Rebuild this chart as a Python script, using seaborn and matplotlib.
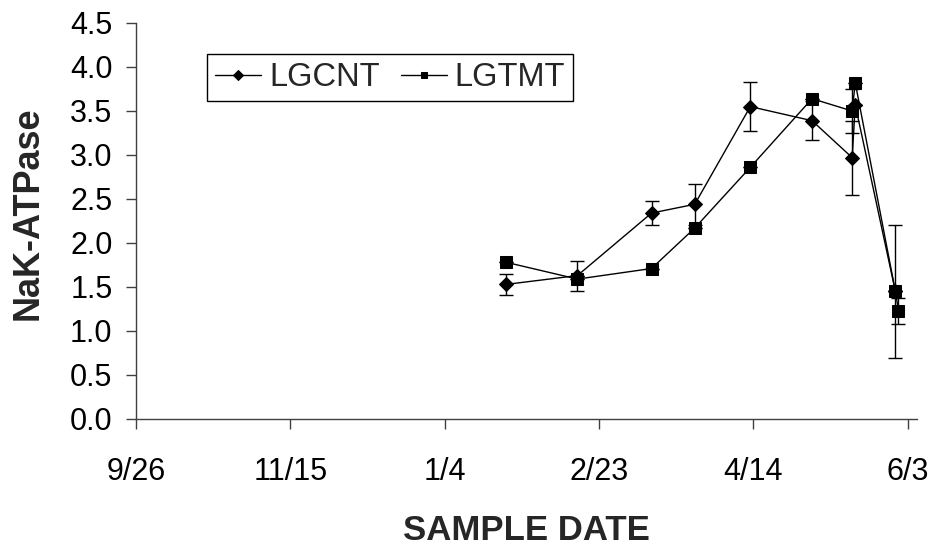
import matplotlib
matplotlib.use("Agg")
import matplotlib.pyplot as plt
import matplotlib.dates as mdates
from matplotlib.ticker import FuncFormatter, MultipleLocator
import pandas as pd
import seaborn as sns

# Sampling dates and NaK-ATPase activity for each group
cnt_dates = ["2001-01-24", "2001-02-16", "2001-03-12", "2001-03-26", "2001-04-13",
             "2001-05-03", "2001-05-16", "2001-05-17", "2001-05-30"]
cnt_values = [1.53, 1.63, 2.34, 2.44, 3.55, 3.39, 2.97, 3.57, 1.45]
cnt_err = [0.12, 0.17, 0.14, 0.23, 0.28, 0.22, 0.42, 0.0, 0.76]

tmt_dates = ["2001-01-24", "2001-02-16", "2001-03-12", "2001-03-26", "2001-04-13",
             "2001-05-03", "2001-05-16", "2001-05-17", "2001-05-30", "2001-05-31"]
tmt_values = [1.78, 1.59, 1.71, 2.17, 2.86, 3.64, 3.50, 3.82, 1.45, 1.23]
tmt_err = [0.0, 0.0, 0.0, 0.0, 0.0, 0.0, 0.25, 0.0, 0.0, 0.15]

axis_start = pd.Timestamp("2000-09-26")
axis_end = pd.Timestamp("2001-06-06")
tick_step_days = 50
y_ticks_step = 0.5

sns.set_theme(style="white")
plt.rcParams["font.family"] = ["Liberation Sans", "DejaVu Sans"]

fig = plt.figure(figsize=(9.38, 5.48), dpi=100)
ax = fig.add_axes([136 / 938, 1 - 419 / 548, 781 / 938, (419 - 23) / 548])

cnt = pd.DataFrame({"date": pd.to_datetime(cnt_dates), "value": cnt_values, "err": cnt_err})
tmt = pd.DataFrame({"date": pd.to_datetime(tmt_dates), "value": tmt_values, "err": tmt_err})

# error bars underneath the markers
for df in (cnt, tmt):
    ax.errorbar(df["date"], df["value"], yerr=df["err"], fmt="none", ecolor="black",
                elinewidth=1.0, capsize=5, capthick=1.0, zorder=1)

sns.lineplot(data=cnt, x="date", y="value", ax=ax, color="black", linewidth=1.0,
             marker="D", markersize=7, markeredgecolor="black", markerfacecolor="black",
             label="LGCNT", estimator=None, sort=False, zorder=2)
sns.lineplot(data=tmt, x="date", y="value", ax=ax, color="black", linewidth=1.0,
             marker="s", markersize=9, markeredgecolor="black", markerfacecolor="black",
             label="LGTMT", estimator=None, sort=False, zorder=3)

ax.set_xlim(axis_start, axis_end)
ticks = pd.date_range(axis_start, periods=6, freq=f"{tick_step_days}D")
ax.set_xticks(ticks)
ax.xaxis.set_major_formatter(FuncFormatter(
    lambda v, pos: f"{mdates.num2date(v).month}/{mdates.num2date(v).day}"))

ax.set_ylim(0, 4.5)
ax.yaxis.set_major_locator(MultipleLocator(y_ticks_step))
ax.yaxis.set_major_formatter(FuncFormatter(lambda v, pos: f"{v:.1f}"))

axis_color = "#404040"
for side in ("top", "right"):
    ax.spines[side].set_visible(False)
for side in ("left", "bottom"):
    ax.spines[side].set_color(axis_color)
    ax.spines[side].set_linewidth(1.0)
ax.tick_params(axis="both", direction="out", length=7, width=1.0, color=axis_color,
               labelsize=22, labelcolor="black", bottom=True, left=True)
ax.tick_params(axis="x", pad=20)
ax.tick_params(axis="y", pad=10)

ax.set_xlabel("SAMPLE DATE", fontsize=25, fontweight="bold", labelpad=20)
ax.set_ylabel("NaK-ATPase", fontsize=26, fontweight="bold")
ax.yaxis.set_label_coords(-0.116, 0.52)
ax.grid(False)

leg = ax.legend(loc="upper left", bbox_to_anchor=(207 / 938, 1 - 54 / 548),
                bbox_transform=fig.transFigure, borderaxespad=0, ncol=2,
                fontsize=23.5, frameon=True, fancybox=False, framealpha=1,
                edgecolor="black", handlelength=1.4, handletextpad=0.25,
                columnspacing=0.65, borderpad=0.25)
leg.get_frame().set_linewidth(1.0)
for h in leg.legend_handles:
    h.set_markersize(5)

fig.savefig("out.png", dpi=100, facecolor="white")
